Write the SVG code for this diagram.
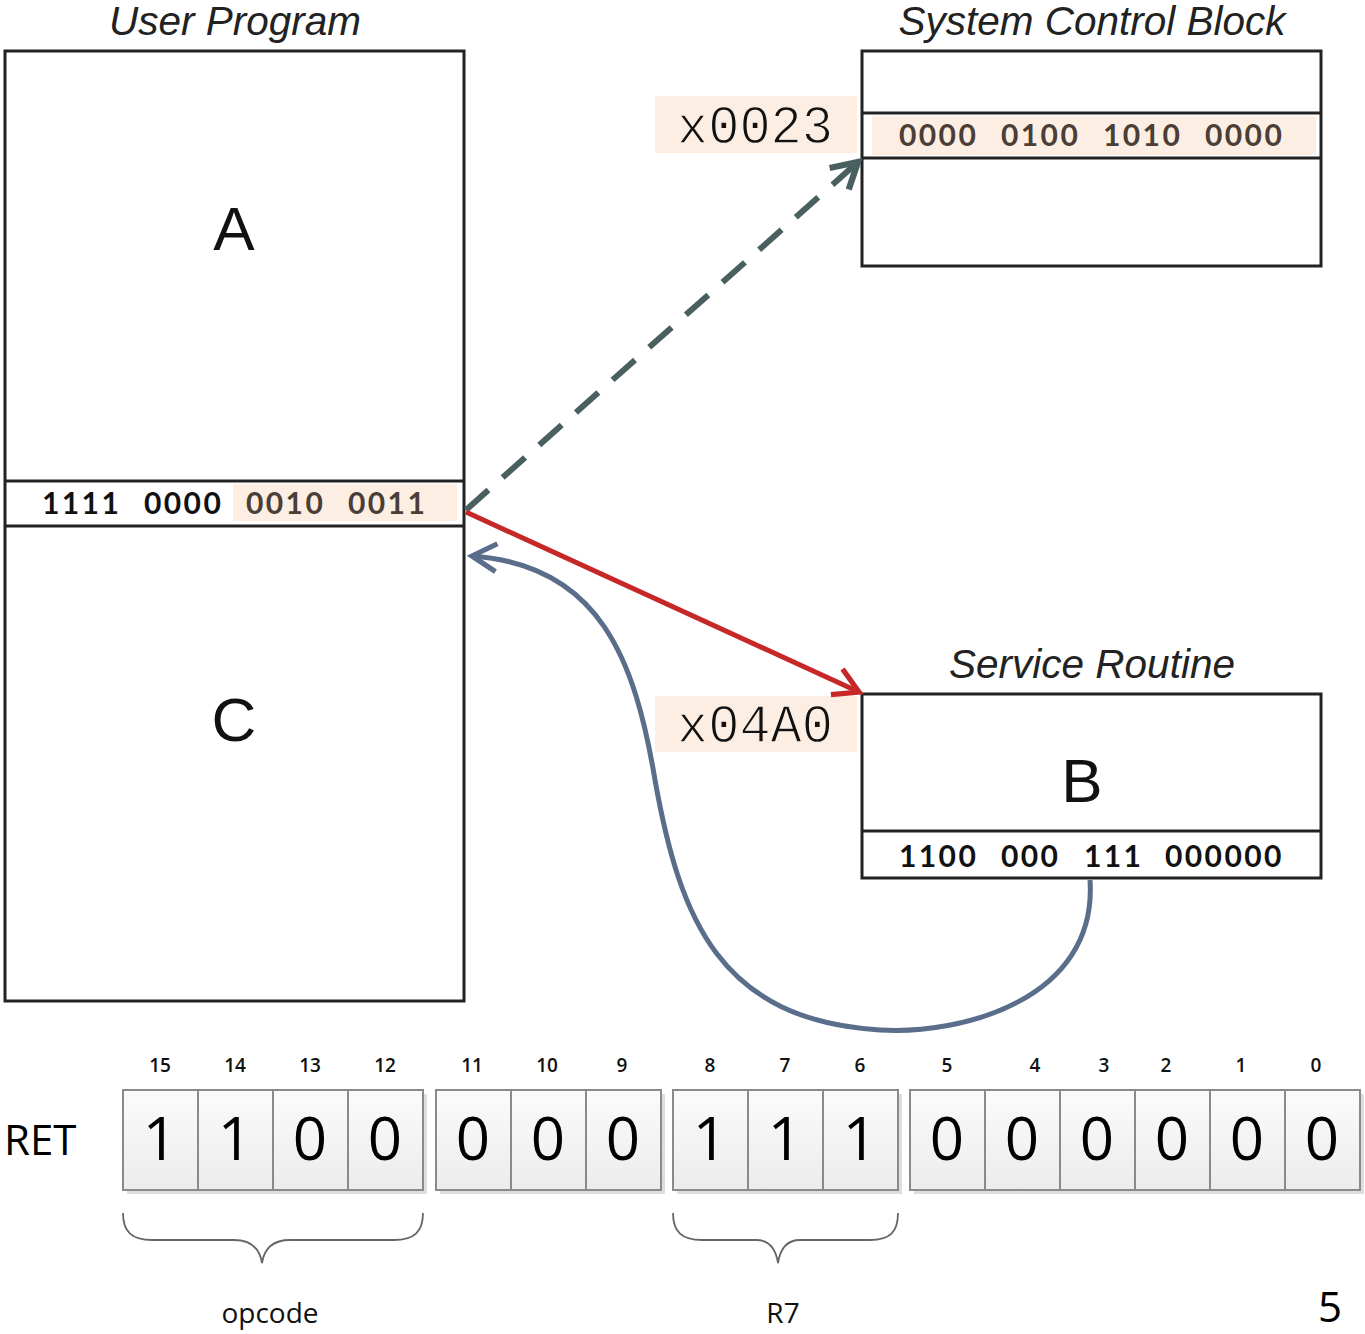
<svg xmlns="http://www.w3.org/2000/svg" width="1365" height="1334" viewBox="0 0 1365 1334">
<style>
.box{fill:#fff;stroke:#222;stroke-width:3}
.ln{stroke:#222;stroke-width:3}
.peach{fill:#fdeee3}
.title{font-family:"Liberation Sans",Arial,sans-serif;font-style:italic;font-size:40.5px;fill:#222;text-anchor:middle}
.big{font-family:"Liberation Sans",Arial,sans-serif;font-size:62px;fill:#111;text-anchor:middle}
.bin{font-family:Lato,"Noto Sans",sans-serif;font-weight:bold;font-size:30px;letter-spacing:2.4px;fill:#111}
.bin2{fill:#4a3e36}
.addr{font-family:"Liberation Mono","Courier New",monospace;font-size:54px;fill:#111;text-anchor:middle;stroke:#fdeee3;stroke-width:1.3}
.cell{fill:url(#cg);stroke:#8a8a8a;stroke-width:2}
.shadow{fill:#dedede}
.bitn{font-family:"Open Sans","Noto Sans",sans-serif;font-size:19px;font-weight:600;fill:#111;text-anchor:middle}
.bitv{font-family:"Open Sans","Noto Sans",sans-serif;font-size:60px;fill:#000;text-anchor:middle}
.lbl{font-family:"Open Sans","Noto Sans",sans-serif;font-size:28px;fill:#111;text-anchor:middle}
.brace{fill:none;stroke:#666;stroke-width:1.8}
</style>
<defs>
<linearGradient id="cg" x1="0" y1="0" x2="0" y2="1">
<stop offset="0" stop-color="#fbfbfb"/>
<stop offset="1" stop-color="#ececec"/>
</linearGradient>
<marker id="ahDash" viewBox="0 0 20 20" refX="17" refY="10" markerWidth="6" markerHeight="6" orient="auto" markerUnits="strokeWidth">
<path d="M3,2 L17,10 L3,18" fill="none" stroke="#4a6060" stroke-width="3.5"/>
</marker>
<marker id="ahRed" viewBox="0 0 20 20" refX="17" refY="10" markerWidth="7" markerHeight="7" orient="auto" markerUnits="strokeWidth">
<path d="M3,2 L17,10 L3,18" fill="none" stroke="#c62828" stroke-width="3"/>
</marker>
<marker id="ahBlue" viewBox="0 0 20 20" refX="17" refY="10" markerWidth="7" markerHeight="7" orient="auto" markerUnits="strokeWidth">
<path d="M3,2 L17,10 L3,18" fill="none" stroke="#5a6d8a" stroke-width="3"/>
</marker>
</defs>
<rect width="1365" height="1334" fill="#fff"/>

<g id="user-program">
<text class="title" x="235" y="35">User Program</text>
<rect class="box" x="5" y="51" width="459" height="950"/>
<line class="ln" x1="5" y1="481" x2="464" y2="481"/>
<line class="ln" x1="5" y1="526" x2="464" y2="526"/>
<rect class="peach" x="233" y="484" width="224" height="37"/>
<text class="big" x="234" y="250">A</text>
<text class="big" x="234" y="741">C</text>
<text class="bin" x="42" y="514">1111</text>
<text class="bin" x="144" y="514">0000</text>
<text class="bin bin2" x="246" y="514">0010</text>
<text class="bin bin2" x="348" y="514">0011</text>
</g>

<g id="system-control-block">
<text class="title" x="1092" y="35">System Control Block</text>
<rect class="box" x="862" y="51" width="459" height="215"/>
<line class="ln" x1="862" y1="113" x2="1321" y2="113"/>
<line class="ln" x1="862" y1="158" x2="1321" y2="158"/>
<rect class="peach" x="872" y="116" width="444" height="39"/>
<text class="bin bin2" x="899" y="146">0000</text>
<text class="bin bin2" x="1001" y="146">0100</text>
<text class="bin bin2" x="1103" y="146">1010</text>
<text class="bin bin2" x="1205" y="146">0000</text>
</g>

<g id="addr-x0023">
<rect class="peach" x="655" y="96" width="202" height="57"/>
<text class="addr" x="755" y="143" textLength="156" lengthAdjust="spacingAndGlyphs">x0023</text>
</g>

<g id="service-routine">
<text class="title" x="1092" y="678">Service Routine</text>
<rect class="box" x="862" y="694" width="459" height="184"/>
<line class="ln" x1="862" y1="831" x2="1321" y2="831"/>
<text class="big" x="1082" y="802">B</text>
<text class="bin" x="899" y="867">1100</text>
<text class="bin" x="1001" y="867">000</text>
<text class="bin" x="1084" y="867">111</text>
<text class="bin" x="1165" y="867">000000</text>
</g>

<g id="addr-x04A0">
<rect class="peach" x="655" y="696" width="202" height="56"/>
<text class="addr" x="755" y="742" textLength="156" lengthAdjust="spacingAndGlyphs">x04A0</text>
</g>

<g id="connectors">
<line x1="466" y1="510" x2="858" y2="162" stroke="#4a6060" stroke-width="6" stroke-dasharray="30,19" marker-end="url(#ahDash)"/>
<line x1="466" y1="512" x2="859" y2="692" stroke="#c62828" stroke-width="5" marker-end="url(#ahRed)"/>
<path d="M1090,880 C1098,1000 960,1035 880,1030 C720,1020 680,920 655,780 C635,660 600,565 472,556" fill="none" stroke="#5a6d8a" stroke-width="5" marker-end="url(#ahBlue)"/>
</g>

<g id="ret-label">
<text x="4" y="1155" font-family="Open Sans,Noto Sans,sans-serif" font-size="42" fill="#000">RET</text>
</g>

<g id="bit-register">
<rect class="shadow" x="127" y="1094" width="300" height="100"/>
<rect class="shadow" x="440" y="1094" width="225" height="100"/>
<rect class="shadow" x="677" y="1094" width="225" height="100"/>
<rect class="shadow" x="914" y="1094" width="450" height="100"/>
<rect class="cell" x="123" y="1090" width="75" height="100"/>
<rect class="cell" x="198" y="1090" width="75" height="100"/>
<rect class="cell" x="273" y="1090" width="75" height="100"/>
<rect class="cell" x="348" y="1090" width="75" height="100"/>
<rect class="cell" x="436" y="1090" width="75" height="100"/>
<rect class="cell" x="511" y="1090" width="75" height="100"/>
<rect class="cell" x="586" y="1090" width="75" height="100"/>
<rect class="cell" x="673" y="1090" width="75" height="100"/>
<rect class="cell" x="748" y="1090" width="75" height="100"/>
<rect class="cell" x="823" y="1090" width="75" height="100"/>
<rect class="cell" x="910" y="1090" width="75" height="100"/>
<rect class="cell" x="985" y="1090" width="75" height="100"/>
<rect class="cell" x="1060" y="1090" width="75" height="100"/>
<rect class="cell" x="1135" y="1090" width="75" height="100"/>
<rect class="cell" x="1210" y="1090" width="75" height="100"/>
<rect class="cell" x="1285" y="1090" width="75" height="100"/>
<text class="bitv" x="160" y="1160">1</text>
<text class="bitv" x="235" y="1160">1</text>
<text class="bitv" x="310" y="1160">0</text>
<text class="bitv" x="385" y="1160">0</text>
<text class="bitv" x="473" y="1160">0</text>
<text class="bitv" x="548" y="1160">0</text>
<text class="bitv" x="623" y="1160">0</text>
<text class="bitv" x="710" y="1160">1</text>
<text class="bitv" x="785" y="1160">1</text>
<text class="bitv" x="860" y="1160">1</text>
<text class="bitv" x="947" y="1160">0</text>
<text class="bitv" x="1022" y="1160">0</text>
<text class="bitv" x="1097" y="1160">0</text>
<text class="bitv" x="1172" y="1160">0</text>
<text class="bitv" x="1247" y="1160">0</text>
<text class="bitv" x="1322" y="1160">0</text>
<text class="bitn" x="160" y="1072">15</text>
<text class="bitn" x="235" y="1072">14</text>
<text class="bitn" x="310" y="1072">13</text>
<text class="bitn" x="385" y="1072">12</text>
<text class="bitn" x="472" y="1072">11</text>
<text class="bitn" x="547" y="1072">10</text>
<text class="bitn" x="622" y="1072">9</text>
<text class="bitn" x="710" y="1072">8</text>
<text class="bitn" x="785" y="1072">7</text>
<text class="bitn" x="860" y="1072">6</text>
<text class="bitn" x="947" y="1072">5</text>
<text class="bitn" x="1035" y="1072">4</text>
<text class="bitn" x="1104" y="1072">3</text>
<text class="bitn" x="1166" y="1072">2</text>
<text class="bitn" x="1241" y="1072">1</text>
<text class="bitn" x="1316" y="1072">0</text>
</g>

<g id="opcode-brace">
<path class="brace" d="M123,1213 C123,1232 132,1240 152,1240 L234,1240 C252,1240 260,1250 262,1263 C264,1250 272,1240 290,1240 L394,1240 C414,1240 423,1232 423,1213"/>
<text class="lbl" x="270" y="1323">opcode</text>
</g>

<g id="r7-brace">
<path class="brace" d="M673,1213 C673,1232 682,1240 702,1240 L756,1240 C770,1240 776,1250 778,1263 C780,1250 786,1240 800,1240 L870,1240 C890,1240 898,1232 898,1213"/>
<text class="lbl" x="783" y="1323">R7</text>
</g>

<g id="page-number">
<text x="1330" y="1322" font-family="Open Sans,Noto Sans,sans-serif" font-size="42" fill="#000" text-anchor="middle">5</text>
</g>
</svg>
